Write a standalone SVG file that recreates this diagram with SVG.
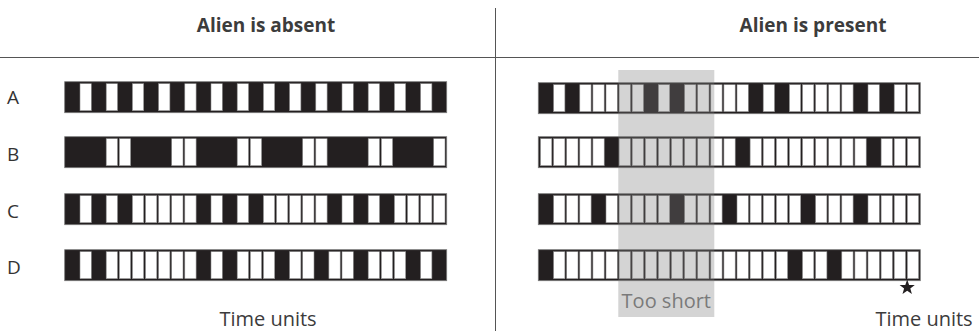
<svg xmlns="http://www.w3.org/2000/svg" width="979" height="331" viewBox="0 0 979 331">
<defs>
<style>
.bar{fill:#231f20;stroke:#7a7a7a;stroke-width:0.8}
.w{fill:#fff;stroke:#8c8c8c;stroke-width:0.6}
.t{font-family:"Open Sans","Noto Sans","Liberation Sans",sans-serif}
.title{font-size:19px;font-weight:bold;fill:#3c3c3c;text-anchor:middle}
.lbl{font-size:19px;fill:#333}
.unit{font-size:20px;fill:#3c3c3c}
.div{stroke:#555;stroke-width:1;fill:none}
</style>
<rect id="c" class="w" x="0" y="2" width="11.3" height="27"/>
</defs>
<rect width="979" height="331" fill="#fff"/>
<g id="dividers">
<line class="div" x1="0" y1="57.5" x2="979" y2="57.5"/>
<line class="div" x1="495.5" y1="8" x2="495.5" y2="331"/>
</g>
<g id="connectors"></g>
<g id="title-absent"><text class="t title" x="266" y="32">Alien is absent</text></g>
<g id="title-present"><text class="t title" x="813" y="32">Alien is present</text></g>
<g id="row-labels">
<text class="t lbl" x="7" y="104">A</text>
<text class="t lbl" x="7" y="161">B</text>
<text class="t lbl" x="7" y="218">C</text>
<text class="t lbl" x="7" y="274">D</text>
</g>
<!-- left bars: cell x = 66.9 + 13.1k -->
<g id="left-A" transform="translate(0,81.7)">
<rect class="bar" x="64.7" y="0" width="382" height="31"/>
<use href="#c" x="80.0"/><use href="#c" x="106.2"/><use href="#c" x="132.4"/><use href="#c" x="158.6"/><use href="#c" x="184.8"/><use href="#c" x="211.0"/><use href="#c" x="237.2"/><use href="#c" x="263.4"/><use href="#c" x="289.6"/><use href="#c" x="315.8"/><use href="#c" x="342.0"/><use href="#c" x="368.2"/><use href="#c" x="394.4"/><use href="#c" x="420.6"/>
</g>
<g id="left-B" transform="translate(0,136.7)">
<rect class="bar" x="64.7" y="0" width="382" height="31"/>
<use href="#c" x="106.2"/><use href="#c" x="119.3"/><use href="#c" x="171.7"/><use href="#c" x="184.8"/><use href="#c" x="237.2"/><use href="#c" x="250.3"/><use href="#c" x="302.7"/><use href="#c" x="315.8"/><use href="#c" x="368.2"/><use href="#c" x="381.3"/><use href="#c" x="433.7"/>
</g>
<g id="left-C" transform="translate(0,193.7)">
<rect class="bar" x="64.7" y="0" width="382" height="31"/>
<use href="#c" x="80.0"/><use href="#c" x="106.2"/><use href="#c" x="132.4"/><use href="#c" x="145.5"/><use href="#c" x="158.6"/><use href="#c" x="171.7"/><use href="#c" x="184.8"/><use href="#c" x="211.0"/><use href="#c" x="237.2"/><use href="#c" x="263.4"/><use href="#c" x="276.5"/><use href="#c" x="289.6"/><use href="#c" x="302.7"/><use href="#c" x="315.8"/><use href="#c" x="342.0"/><use href="#c" x="368.2"/><use href="#c" x="394.4"/><use href="#c" x="407.5"/><use href="#c" x="420.6"/><use href="#c" x="433.7"/>
</g>
<g id="left-D" transform="translate(0,249.7)">
<rect class="bar" x="64.7" y="0" width="382" height="31"/>
<use href="#c" x="80.0"/><use href="#c" x="106.2"/><use href="#c" x="119.3"/><use href="#c" x="132.4"/><use href="#c" x="145.5"/><use href="#c" x="158.6"/><use href="#c" x="171.7"/><use href="#c" x="184.8"/><use href="#c" x="211.0"/><use href="#c" x="237.2"/><use href="#c" x="250.3"/><use href="#c" x="263.4"/><use href="#c" x="289.6"/><use href="#c" x="302.7"/><use href="#c" x="328.9"/><use href="#c" x="342.0"/><use href="#c" x="368.2"/><use href="#c" x="381.3"/><use href="#c" x="394.4"/><use href="#c" x="420.6"/>
</g>
<!-- right bars: cell x = 540.5 + 13.1k -->
<g id="right-A" transform="translate(0,82.7)">
<rect class="bar" x="538.3" y="0" width="382" height="31"/>
<use href="#c" x="553.6"/><use href="#c" x="579.8"/><use href="#c" x="592.9"/><use href="#c" x="606.0"/><use href="#c" x="619.1"/><use href="#c" x="632.2"/><use href="#c" x="658.4"/><use href="#c" x="684.6"/><use href="#c" x="697.7"/><use href="#c" x="710.8"/><use href="#c" x="723.9"/><use href="#c" x="737.0"/><use href="#c" x="763.2"/><use href="#c" x="789.4"/><use href="#c" x="802.5"/><use href="#c" x="815.6"/><use href="#c" x="828.7"/><use href="#c" x="841.8"/><use href="#c" x="868.0"/><use href="#c" x="894.2"/><use href="#c" x="907.3"/>
</g>
<g id="right-B" transform="translate(0,136.7)">
<rect class="bar" x="538.3" y="0" width="382" height="31"/>
<use href="#c" x="540.5"/><use href="#c" x="553.6"/><use href="#c" x="566.7"/><use href="#c" x="579.8"/><use href="#c" x="592.9"/><use href="#c" x="619.1"/><use href="#c" x="632.2"/><use href="#c" x="645.3"/><use href="#c" x="658.4"/><use href="#c" x="671.5"/><use href="#c" x="684.6"/><use href="#c" x="697.7"/><use href="#c" x="710.8"/><use href="#c" x="723.9"/><use href="#c" x="750.1"/><use href="#c" x="763.2"/><use href="#c" x="776.3"/><use href="#c" x="789.4"/><use href="#c" x="802.5"/><use href="#c" x="815.6"/><use href="#c" x="828.7"/><use href="#c" x="841.8"/><use href="#c" x="854.9"/><use href="#c" x="881.1"/><use href="#c" x="894.2"/><use href="#c" x="907.3"/>
</g>
<g id="right-C" transform="translate(0,193.7)">
<rect class="bar" x="538.3" y="0" width="382" height="31"/>
<use href="#c" x="553.6"/><use href="#c" x="566.7"/><use href="#c" x="579.8"/><use href="#c" x="606.0"/><use href="#c" x="619.1"/><use href="#c" x="632.2"/><use href="#c" x="645.3"/><use href="#c" x="658.4"/><use href="#c" x="684.6"/><use href="#c" x="697.7"/><use href="#c" x="710.8"/><use href="#c" x="737.0"/><use href="#c" x="750.1"/><use href="#c" x="763.2"/><use href="#c" x="776.3"/><use href="#c" x="789.4"/><use href="#c" x="815.6"/><use href="#c" x="828.7"/><use href="#c" x="841.8"/><use href="#c" x="868.0"/><use href="#c" x="881.1"/><use href="#c" x="894.2"/><use href="#c" x="907.3"/>
</g>
<g id="right-D" transform="translate(0,249.7)">
<rect class="bar" x="538.3" y="0" width="382" height="31"/>
<use href="#c" x="553.6"/><use href="#c" x="566.7"/><use href="#c" x="579.8"/><use href="#c" x="592.9"/><use href="#c" x="606.0"/><use href="#c" x="619.1"/><use href="#c" x="632.2"/><use href="#c" x="645.3"/><use href="#c" x="658.4"/><use href="#c" x="671.5"/><use href="#c" x="684.6"/><use href="#c" x="697.7"/><use href="#c" x="710.8"/><use href="#c" x="723.9"/><use href="#c" x="737.0"/><use href="#c" x="750.1"/><use href="#c" x="763.2"/><use href="#c" x="776.3"/><use href="#c" x="802.5"/><use href="#c" x="815.6"/><use href="#c" x="841.8"/><use href="#c" x="854.9"/><use href="#c" x="868.0"/><use href="#c" x="881.1"/><use href="#c" x="894.2"/><use href="#c" x="907.3"/>
</g>
<g id="too-short">
<rect x="618.3" y="70" width="96" height="247" fill="#7c7c7c" fill-opacity="0.33"/>
<text class="t" x="666.3" y="307.5" font-size="20" fill="#7a7a7a" text-anchor="middle">Too short</text>
</g>
<g id="star">
<polygon points="907.2,279.5 909.1,284.9 914.8,285 910.3,288.5 911.9,294 907.2,290.7 902.5,294 904.1,288.5 899.6,285 905.3,284.9" fill="#231f20"/>
</g>
<g id="time-left"><text class="t unit" x="268" y="326" text-anchor="middle">Time units</text></g>
<g id="time-right"><text class="t unit" x="924" y="326" text-anchor="middle">Time units</text></g>
</svg>
